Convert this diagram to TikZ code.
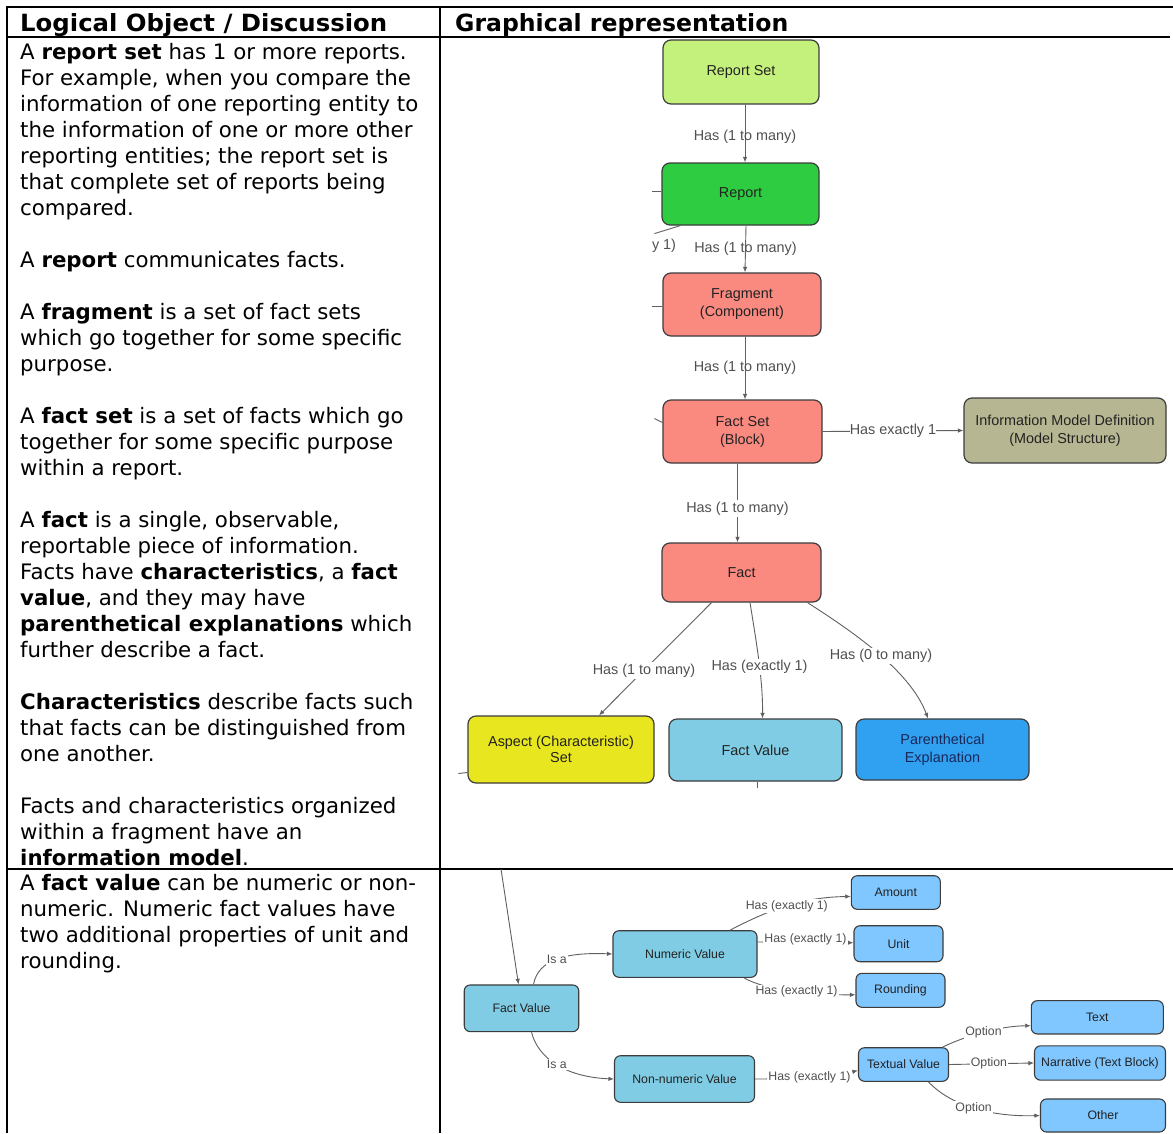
\documentclass[tikz,border=0pt]{standalone}
\usepackage{fontspec}
\setmainfont{DejaVu Sans}
\newfontfamily\diagfont{Liberation Sans}
\usetikzlibrary{arrows.meta}

% fills of the model boxes
\definecolor{cRepSet}{RGB}{196,240,124}
\definecolor{cRep}{RGB}{46,204,64}
\definecolor{cSalmon}{RGB}{250,137,128}
\definecolor{cOlive}{RGB}{182,182,146}
\definecolor{cYellow}{RGB}{232,230,30}
\definecolor{cTealBox}{RGB}{128,204,228}
\definecolor{cAzure}{RGB}{48,160,240}
\definecolor{cSky}{RGB}{128,198,255}
% strokes and text
\definecolor{cBoxLine}{RGB}{60,60,60}
\definecolor{cWire}{RGB}{96,96,96}
\definecolor{cLbl}{RGB}{80,80,80}
\definecolor{cNodeTxt}{RGB}{34,34,34}
\definecolor{cNavy}{RGB}{25,40,90}

\newcommand\txtbody{\fontsize{21.3}{26}\selectfont}
\newcommand\dgUp{\diagfont\fontsize{14.4}{18}\selectfont}
\newcommand\dgLow{\diagfont\fontsize{12.3}{15}\selectfont}

\begin{document}
\begin{tikzpicture}[x=1pt,y=-1pt,
  upbox/.style={draw=cBoxLine,line width=1.2pt,rounded corners=8pt,inner sep=0pt,
                font=\dgUp,text=cNodeTxt,align=center},
  lowbox/.style={draw=cBoxLine,line width=1.1pt,rounded corners=6pt,inner sep=0pt,
                font=\dgLow,text=cNodeTxt,align=center},
  link/.style={draw=cWire,line width=0.9pt,-{Latex[length=5.5pt,width=4.5pt]}},
  uplbl/.style={font=\dgUp,text=cLbl,inner sep=1.5pt},
  lowlbl/.style={font=\dgLow,text=cLbl,inner sep=1pt},
  gap/.style={fill=white},
  stub/.style={draw=cWire,line width=0.9pt},
  bodyline/.style={anchor=base west,inner sep=0pt,font=\txtbody},
  rule/.style={line width=2pt,black},
  thinrule/.style={line width=1.2pt,black}]

\fill[white] (0,0) rectangle (1173,1133);
\useasboundingbox (0,0) rectangle (1173,1133);

% ---------- table frame ----------
\draw[rule] (8,7) -- (1173,7);
\draw[rule] (7,6) -- (7,1133);
\draw[rule] (440,6) -- (440,1133);
\draw[rule] (6,37) -- (458,37);
\draw[thinrule] (458,37) -- (1170,37);
\draw[rule] (6,869) -- (456,869);
\draw[line width=1.6pt] (456,869) -- (1173,869);

% ---------- header ----------
\node[anchor=base west,inner sep=0pt] (head1) at (20,31)
  {\resizebox{367pt}{18pt}{\bfseries Logical Object / Discussion}};
\node[anchor=base west,inner sep=0pt] (head2) at (455,31)
  {\resizebox{333pt}{18pt}{\bfseries Graphical representation}};

% ---------- discussion text ----------
\foreach \yy/\linetext in {
  59/{A \textbf{report set} has 1 or more reports.},
  85/{For example, when you compare the},
  111/{information of one reporting entity to},
  137/{the information of one or more other},
  163/{reporting entities; the report set is},
  189/{that complete set of reports being},
  215/{compared.},
  267/{A \textbf{report} communicates facts.},
  319/{A \textbf{fragment} is a set of fact sets},
  345/{which go together for some specific},
  371/{purpose.},
  423/{A \textbf{fact set} is a set of facts which go},
  449/{together for some specific purpose},
  475/{within a report.},
  527/{A \textbf{fact} is a single, observable,},
  553/{reportable piece of information.},
  579/{Facts have \textbf{characteristics}, a \textbf{fact}},
  605/{\textbf{value}, and they may have},
  631/{\textbf{parenthetical explanations} which},
  657/{further describe a fact.},
  709/{\textbf{Characteristics} describe facts such},
  735/{that facts can be distinguished from},
  761/{one another.},
  813/{Facts and characteristics organized},
  839/{within a fragment have an},
  865/{\textbf{information model}.},
  890/{A \textbf{fact value} can be numeric or non-},
  916/{numeric. Numeric fact values have},
  942/{two additional properties of unit and},
  968/{rounding.}}
  \node[bodyline] (txt\yy) at (20,\yy) {\linetext};

% ---------- upper model ----------
\node[upbox,fill=cRepSet,minimum width=156pt,minimum height=64pt] (rs) at (741,72) {Report Set};
\node[upbox,fill=cRep,minimum width=157pt,minimum height=62pt] (rep) at (740.5,194) {Report};
\node[upbox,fill=cSalmon,minimum width=158pt,minimum height=63pt] (frag) at (742,304.5) {Fragment\\(Component)};
\node[upbox,fill=cSalmon,minimum width=159pt,minimum height=63pt] (fs) at (742.5,431.5) {Fact Set\\(Block)};
\node[upbox,fill=cOlive,minimum width=202pt,minimum height=65pt] (imd) at (1065,430.5)
  {Information Model Definition\\(Model Structure)};
\node[upbox,fill=cSalmon,minimum width=159pt,minimum height=59pt] (fact) at (741.5,572.5) {Fact};
\node[upbox,fill=cYellow,minimum width=186pt,minimum height=67pt,font=\diagfont\fontsize{14.4}{16.6}\selectfont]
  (asp) at (561,749.5) {Aspect (Characteristic)\\Set};
\node[upbox,fill=cTealBox,minimum width=173pt,minimum height=62pt] (fvu) at (755.5,750) {Fact Value};
\node[upbox,fill=cAzure,minimum width=173pt,minimum height=61pt,text=cNavy] (pe) at (942.5,749.5)
  {Parenthetical\\Explanation};

\draw[link] ([xshift=4pt]rs.south) -- node[uplbl,pos=.55] {Has (1 to many)} ([xshift=4.5pt]rep.north);
\draw[link] ([xshift=5.5pt]rep.south) -- node[uplbl,pos=.5] {Has (1 to many)} ([xshift=3pt]frag.north);
\draw[link] ([xshift=3pt]frag.south) -- node[uplbl,pos=.5] {Has (1 to many)} ([xshift=2.5pt]fs.north);
\draw[link] ([xshift=-5pt]fs.south) -- node[uplbl,gap,pos=.57] {Has (1 to many)} ([xshift=-4pt]fact.north);
\draw[link] (fs.east) -- node[uplbl,gap,inner xsep=0pt] {Has exactly 1} (imd.west);
\draw[link] ([xshift=-30pt]fact.south) -- node[uplbl,gap,pos=.6] {Has (1 to many)} ([xshift=38pt]asp.north);
\draw[link] ([xshift=8.5pt]fact.south) .. controls (756,640) and (763,680) ..
  node[uplbl,gap,pos=.56] {Has (exactly 1)} ([xshift=7pt]fvu.north);
\draw[link] ([xshift=66pt]fact.south) .. controls (850,630) and (910,670) ..
  node[uplbl,gap,pos=.53] {Has (0 to many)} ([xshift=-14.5pt]pe.north);

% loose ends of links running off to the left
\draw[stub] ([yshift=3pt]rep.west) -- ++(-9,0);
\draw[stub] ([xshift=19pt]rep.south west) -- ++(-26,8);
\node[uplbl] (cutlbl) at (664,246) {y 1)};
\draw[stub] ([yshift=-2pt]frag.west) -- ++(-10,0);
\draw[stub] ([yshift=9pt]fs.west) -- ++(-8,-4);
\draw[stub] ([yshift=-23pt]asp.west) -- ++(-9,1);
\draw[stub] ([xshift=1.5pt]fvu.south) -- ++(0,6);

% ---------- lower model ----------
\node[lowbox,fill=cTealBox,minimum width=114.5pt,minimum height=46.7pt] (lfv) at (521.5,1008.3) {Fact Value};
\node[lowbox,fill=cTealBox,minimum width=144pt,minimum height=46.6pt] (num) at (685,954) {Numeric Value};
\node[lowbox,fill=cTealBox,minimum width=140pt,minimum height=46.6pt] (nnum) at (684.5,1079) {Non-numeric Value};
\node[lowbox,fill=cSky,minimum width=89pt,minimum height=33.6pt] (amt) at (895.8,892.5) {Amount};
\node[lowbox,fill=cSky,minimum width=89pt,minimum height=36pt] (unit) at (898.5,943.7) {Unit};
\node[lowbox,fill=cSky,minimum width=89pt,minimum height=34pt] (rnd) at (900.5,990.3) {Rounding};
\node[lowbox,fill=cSky,minimum width=90pt,minimum height=33.6pt] (txv) at (903.5,1064.5) {Textual Value};
\node[lowbox,fill=cSky,minimum width=132pt,minimum height=33.3pt] (txt) at (1097.3,1017.3) {Text};
\node[lowbox,fill=cSky,minimum width=131pt,minimum height=34.3pt] (narr) at (1100,1063) {Narrative (Text Block)};
\node[lowbox,fill=cSky,minimum width=125pt,minimum height=33pt] (oth) at (1103,1115.5) {Other};

\coordinate (fvin) at (501,869);
\draw[link] (fvin) -- ([xshift=-3pt]lfv.north);
\draw[link] ([xshift=12pt]lfv.north) .. controls (538,960) and (565,952) ..
  node[lowlbl,gap,pos=.5] {Is a} (num.west);
\draw[link] ([xshift=10pt]lfv.south) .. controls (538,1058) and (565,1077) ..
  node[lowlbl,gap,pos=.5] {Is a} (nnum.west);
\draw[link] ([xshift=45pt]num.north) .. controls (765,912) and (800,897) ..
  node[lowlbl,gap,pos=.52] {Has (exactly 1)} ([yshift=-4pt]amt.west);
\draw[link] ([yshift=12pt]num.east) -- node[lowlbl,gap,pos=.5,yshift=3pt] {Has (exactly 1)} ([yshift=1pt]unit.west);
\draw[link] ([xshift=59pt]num.south) .. controls (765,990) and (810,995) ..
  node[lowlbl,gap,pos=.55] {Has (exactly 1)} ([yshift=-4.5pt]rnd.west);
\draw[link] (nnum.east) .. controls (800,1079) and (835,1076) ..
  node[lowlbl,gap,pos=.45] {Has (exactly 1)} ([yshift=-6pt]txv.west);
\draw[link] ([xshift=39pt]txv.north) .. controls (965,1036) and (1000,1026) ..
  node[lowlbl,gap,pos=.5] {Option} ([yshift=-8.4pt]txt.west);
\draw[link] (txv.east) -- node[lowlbl,gap,pos=.47] {Option} (narr.west);
\draw[link] ([xshift=25pt]txv.south) .. controls (950,1105) and (990,1117) ..
  node[lowlbl,gap,pos=.5] {Option} (oth.west);

\end{tikzpicture}
\end{document}
